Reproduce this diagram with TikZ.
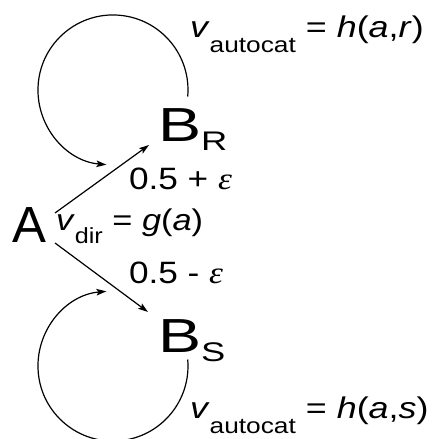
\documentclass[tikz,border=0pt]{standalone}
\usepackage{graphicx}
\usepackage{fontspec}
\setmainfont{Liberation Sans}
\newfontfamily\epsfont{Liberation Serif}
\usetikzlibrary{arrows.meta}
\newcommand{\epsglyph}{{\epsfont\itshape ε}}
\newcommand{\mysub}[2]{\raisebox{-#1}{\fontsize{22}{22}\selectfont #2}}
\tikzset{
  lbl/.style={inner sep=0pt, outer sep=0pt, anchor=base west, font=\fontsize{30}{36}\selectfont},
  big/.style={inner sep=0pt, outer sep=0pt, anchor=base west, font=\fontsize{48}{56}\selectfont},
  arr/.style={line width=1.2bp, -{Stealth[length=10bp,width=6.5bp,inset=2bp]}}
}
\begin{document}
\begin{tikzpicture}[x=1bp,y=-1bp]
\useasboundingbox (0,0) rectangle (436,439);
% nodes
\node[big, font=\fontsize{51}{60}\selectfont] (A) at (12,242) {A};
\node[big] (BR) at (158,142) {\scalebox{1.35}[1]{B\raisebox{-9bp}{\fontsize{27}{27}\selectfont R}}};
\node[big] (BS) at (158,352) {\scalebox{1.35}[1]{B\raisebox{-9bp}{\fontsize{27}{27}\selectfont S}}};
% labels
\node[lbl] (hr) at (190,38) {\scalebox{1.2}[1]{\textit{v}\mysub{15bp}{autocat} = \textit{h}(\textit{a},\textit{r})}};
\node[lbl] (hs) at (190,418) {\scalebox{1.2}[1]{\textit{v}\mysub{15bp}{autocat} = \textit{h}(\textit{a},\textit{s})}};
\node[lbl] (gd) at (56,230) {\scalebox{1.15}[1]{\textit{v}\mysub{13bp}{dir} = \textit{g}(\textit{a})}};
\node[lbl, font=\fontsize{31}{36}\selectfont] (ep) at (129,190) {\scalebox{1.14}[1]{0.5 + \epsglyph}};
\node[lbl, font=\fontsize{31}{36}\selectfont] (em) at (129,283) {\scalebox{1.14}[1]{0.5 - \epsglyph}};
% connector end points
\coordinate (a1) at (55,213);
\coordinate (r1) at (149,145);
\coordinate (a2) at (55,243);
\coordinate (s1) at (148,312);
\coordinate (rtop) at (187.7,96.5);
\coordinate (sbot) at (187.7,359.5);
% connectors
\draw[arr] (a1) -- (r1);
\draw[arr] (a2) -- (s1);
\draw[arr] (rtop) arc[start angle=5, end angle=-265, radius=75];
\draw[arr] (sbot) arc[start angle=-5, end angle=265, radius=75];
\end{tikzpicture}
\end{document}
